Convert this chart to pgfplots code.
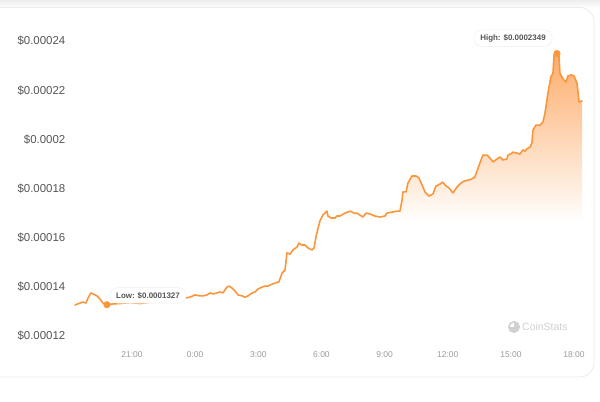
\documentclass[border=0pt]{standalone}
\usepackage{fontspec}
\setmainfont{Liberation Sans}
\usepackage{pgfplots}
\pgfplotsset{compat=1.18}
\usepackage{pgfplotstable}
\definecolor{lineor}{RGB}{250,150,60}
\definecolor{fillor}{RGB}{253,172,105}
\definecolor{ylab}{RGB}{85,85,85}
\definecolor{xlab}{RGB}{155,155,155}
\definecolor{wm}{RGB}{208,208,208}
\definecolor{pinText}{RGB}{85,85,85}

% price in units of 0.00001 USD, time in hours (24 = 0:00)
\pgfplotstableread{
h v
18.29 13.26
18.53 13.34
18.67 13.38
18.81 13.34
18.91 13.54
19.05 13.75
19.15 13.71
19.34 13.63
19.48 13.50
19.62 13.34
19.81 13.27
20.05 13.30
20.43 13.32
20.90 13.36
21.38 13.32
21.71 13.36
22.09 13.40
22.57 13.44
23.04 13.48
23.42 13.52
23.52 13.54
23.76 13.58
23.99 13.67
24.23 13.63
24.37 13.63
24.56 13.67
24.71 13.75
24.85 13.71
25.04 13.75
25.18 13.79
25.32 13.75
25.51 13.99
25.61 14.03
25.75 13.95
25.89 13.83
26.04 13.67
26.23 13.63
26.37 13.58
26.51 13.63
26.70 13.75
26.84 13.79
26.99 13.91
27.18 13.99
27.32 14.03
27.46 14.03
27.65 14.11
27.79 14.15
27.98 14.20
28.13 14.56
28.27 14.68
28.36 15.38
28.51 15.33
28.65 15.50
28.84 15.62
28.93 15.78
29.08 15.70
29.22 15.70
29.36 15.58
29.55 15.50
29.65 15.58
29.74 16.03
29.84 16.39
29.93 16.68
30.07 16.92
30.17 17.00
30.26 17.08
30.31 16.88
30.45 16.80
30.64 16.80
30.74 16.88
30.88 16.88
31.12 17.00
31.36 17.08
31.55 17.00
31.69 17.00
31.83 16.92
31.97 16.84
32.12 17.00
32.31 16.96
32.54 16.88
32.78 16.84
33.02 16.88
33.11 17.00
33.35 17.04
33.59 17.08
33.73 17.08
33.83 17.53
33.87 17.86
34.02 17.86
34.11 18.22
34.30 18.51
34.49 18.51
34.63 18.43
34.78 18.14
34.92 17.86
35.11 17.69
35.30 17.78
35.44 18.10
35.63 18.18
35.77 18.26
35.87 18.14
36.06 18.02
36.25 17.82
36.44 18.06
36.63 18.22
36.77 18.30
36.96 18.34
37.15 18.39
37.29 18.47
37.44 18.83
37.53 19.04
37.67 19.36
37.86 19.36
38.01 19.24
38.15 19.08
38.34 19.20
38.48 19.28
38.62 19.16
38.81 19.20
38.86 19.36
39.05 19.44
39.10 19.48
39.29 19.44
39.43 19.40
39.57 19.57
39.67 19.52
39.76 19.61
39.91 19.69
40.00 19.85
40.05 20.38
40.19 20.58
40.38 20.58
40.52 20.70
40.62 21.07
40.76 21.88
40.90 22.54
41.00 22.70
41.05 23.43
41.19 23.49
41.28 23.43
41.33 22.70
41.48 22.45
41.62 22.33
41.71 22.58
41.86 22.62
42.00 22.58
42.14 22.29
42.24 21.52
42.38 21.56
}\pricedata

\begin{document}
\begin{tikzpicture}[x=1bp,y=1bp]
\useasboundingbox (0,0) rectangle (600,401);
% card background
\shade[top color=black!7, bottom color=white] (0,393) rectangle (600,401);
\draw[black!8, fill=white, line width=0.8bp, rounded corners=14bp] (-20,24) rectangle (594,393.5);

\begin{axis}[
  at={(68.85bp,52.75bp)}, anchor=south west,
  scale only axis, width=515.7bp, height=331.8bp,
  xmin=18, xmax=42.5, ymin=11.5, ymax=25,
  clip=false,
  axis line style={draw=none}, tick style={draw=none},
  major tick length=0pt,
  scaled y ticks=false, scaled x ticks=false,
  xtick={21,24,27,30,33,36,39,42},
  xticklabels={21:00,0:00,3:00,6:00,9:00,12:00,15:00,18:00},
  ytick={12,14,16,18,20,22,24},
  yticklabels={\$0.00012,\$0.00014,\$0.00016,\$0.00018,\$0.0002,\$0.00022,\$0.00024},
  yticklabel style={font=\fontsize{11.5}{13}\selectfont, text=ylab},
  xticklabel style={font=\fontsize{8.5}{10}\selectfont, text=xlab},
  /pgf/number format/assume math mode=true,
]
% gradient band, then the region above the price line is covered in white
\shade[top color=fillor, bottom color=white] (axis cs:30,23.55) rectangle (axis cs:42.38,16.6);
\addplot[fill=white, draw=none]
  table[x=h, y=v] {\pricedata} -- (axis cs:42.6,21.56) -- (axis cs:42.6,25) -- (axis cs:18,25) -- (axis cs:18,13.26) -- cycle;
\addplot[lineor, line width=1.6bp, line join=round, line cap=round] table[x=h, y=v] {\pricedata};
\addplot[only marks, mark=*, mark size=3.3bp, color=lineor] coordinates {(19.81,13.27) (41.19,23.49)};
\node[fill=white, draw=black!7, rounded corners=8bp, inner xsep=6.5bp, inner ysep=4.5bp,
      font=\bfseries\fontsize{8}{9}\selectfont, text=pinText]
  at (axis cs:39.10,24.12) {High: \$0.0002349};
\node[fill=white, draw=black!7, rounded corners=8bp, inner xsep=6.5bp, inner ysep=4.5bp,
      font=\bfseries\fontsize{8}{9}\selectfont, text=pinText]
  at (axis cs:21.76,13.65) {Low: \$0.0001327};
\end{axis}

% watermark
\draw[wm, line width=1.6bp] (514,74) circle (5.2bp);
\fill[wm] (514,74) -- (514,79.2) arc (90:-180:5.2bp) -- cycle;
\node[text=wm, font=\fontsize{10.5}{12}\selectfont, anchor=west, inner sep=0pt] at (522,74) {CoinStats};
\end{tikzpicture}
\end{document}
